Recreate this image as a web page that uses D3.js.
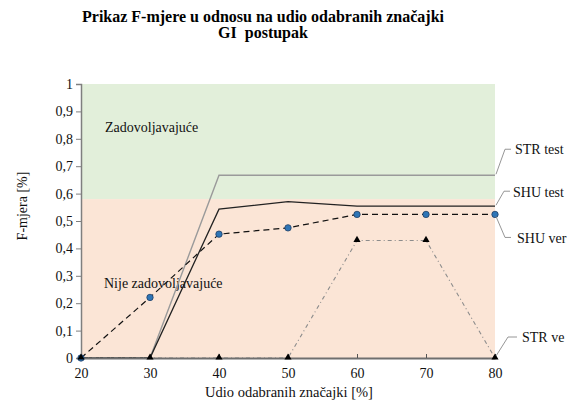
<!DOCTYPE html>
<html>
<head>
<meta charset="utf-8">
<script src="https://cdn.jsdelivr.net/npm/d3@7/dist/d3.min.js"></script>
<style>
  html, body { margin: 0; padding: 0; background: #ffffff; }
  svg { display: block; }
  svg text { font-family: "Liberation Serif", "Times New Roman", "DejaVu Serif", serif !important; }
</style>
</head>
<body>
<svg id="chart" width="570" height="410"></svg>
<script>
// Share of selected features (%)
const shares = [20, 30, 40, 50, 60, 70, 80];

// F-measure per series
const strTest = [0, 0, 0.667, 0.667, 0.667, 0.667, 0.667];
const shuTest = [0, 0, 0.543, 0.571, 0.554, 0.554, 0.554];
const shuVer  = [0, 0.221, 0.452, 0.475, 0.524, 0.524, 0.524];
const strVe   = [0, 0, 0, 0, 0.429, 0.429, 0];

const yTicks = [0, 0.1, 0.2, 0.3, 0.4, 0.5, 0.6, 0.7, 0.8, 0.9, 1];
const xTicks = [20, 30, 40, 50, 60, 70, 80];

// Threshold between satisfactory and unsatisfactory zones
const threshold = 0.58;

const titleLines = ["Prikaz F-mjere u odnosu na udio odabranih značajki", "GI  postupak"];

const svg = d3.select("#chart");
const m = { left: 81, right: 495, top: 84, bottom: 358 };

const x = d3.scaleLinear().domain([20, 80]).range([m.left, m.right]);
const y = d3.scaleLinear().domain([0, 1]).range([m.bottom, m.top]);

// Zones
svg.append("rect")
  .attr("x", x(20)).attr("y", y(1))
  .attr("width", x(80) - x(20)).attr("height", y(threshold) - y(1))
  .attr("fill", "#e2efda");
svg.append("rect")
  .attr("x", x(20)).attr("y", y(threshold))
  .attr("width", x(80) - x(20)).attr("height", y(0) - y(threshold))
  .attr("fill", "#fbe5d6");

// Title
svg.append("g").selectAll("text").data(titleLines).join("text")
  .attr("x", 263).attr("y", (d, i) => 22 + i * 16)
  .attr("text-anchor", "middle")
  .attr("font-weight", "bold")
  .attr("font-size", 16)
  .attr("fill", "#000")
  .style("white-space", "pre")
  .text(d => d);

// Zone labels
svg.append("text").attr("x", 105).attr("y", 132)
  .attr("font-size", 14).attr("fill", "#111").text("Zadovoljavajuće");
svg.append("text").attr("x", 104).attr("y", 288)
  .attr("font-size", 14).attr("fill", "#111").text("Nije zadovoljavajuće");

const line = d3.line().x((d, i) => x(shares[i])).y(d => y(d));

const series = [
  { name: "STR test", values: strTest, stroke: "#9a9a9a", width: 1.4, dash: null },
  { name: "SHU test", values: shuTest, stroke: "#222222", width: 1.3, dash: null },
  { name: "SHU ver",  values: shuVer,  stroke: "#111111", width: 1.2, dash: "6,4" },
  { name: "STR ve",   values: strVe,   stroke: "#8c8c8c", width: 1.1, dash: "4,3,1,3" }
];

const lines = svg.append("g");
series.forEach(s => {
  lines.append("path")
    .datum(s.values)
    .attr("d", line)
    .attr("fill", "none")
    .attr("stroke", s.stroke)
    .attr("stroke-width", s.width)
    .attr("stroke-dasharray", s.dash);
});

// Axes
const yAxis = d3.axisLeft(y).tickValues(yTicks).tickSize(5).tickPadding(3)
  .tickFormat(d => String(d).replace(".", ","));
const gy = svg.append("g").attr("transform", `translate(${m.left},0)`).call(yAxis);
gy.attr("font-family", null);
gy.select(".domain").attr("stroke", "#7f7f7f").attr("stroke-width", 1.5);
gy.selectAll(".tick line").attr("stroke", "#7f7f7f");
gy.selectAll(".tick text").attr("font-size", 14).attr("fill", "#111");

const xAxis = d3.axisBottom(x).tickValues(xTicks).tickSize(-4).tickPadding(10).tickSizeOuter(0);
const gx = svg.append("g").attr("transform", `translate(0,${m.bottom})`).call(xAxis);
gx.attr("font-family", null);
gx.select(".domain").attr("stroke", "#6f6f6f").attr("stroke-width", 2);
gx.selectAll(".tick line").attr("stroke", "#555");
gx.selectAll(".tick text").attr("font-size", 14).attr("fill", "#111");

// Axis titles
svg.append("text").attr("x", 289).attr("y", 397)
  .attr("text-anchor", "middle").attr("font-size", 14.5).attr("fill", "#111")
  .text("Udio odabranih značajki [%]");
svg.append("text")
  .attr("transform", "translate(27,206) rotate(-90)")
  .attr("text-anchor", "middle").attr("font-size", 14).attr("fill", "#111")
  .text("F-mjera [%]");

// Markers
svg.append("g").selectAll("circle").data(shuVer).join("circle")
  .attr("cx", (d, i) => x(shares[i])).attr("cy", d => y(d))
  .attr("r", 3.2)
  .attr("fill", "#2e75b6").attr("stroke", "#1f3f66").attr("stroke-width", 0.8);

const tri = d3.symbol().type(d3.symbolTriangle).size(22);
svg.append("g").selectAll("path").data(strVe).join("path")
  .attr("transform", (d, i) => `translate(${x(shares[i])},${y(d) - 0.5})`)
  .attr("d", tri)
  .attr("fill", "#000");

// Series labels with leader lines
const last = shares.length - 1;
const labels = [
  { text: "STR test", v: strTest[last], pts: [[1, -1], [10, -26], [16, -26]], tx: 20, ty: -21 },
  { text: "SHU test", v: shuTest[last], pts: [[1, -1], [9, -15], [15, -15]], tx: 18, ty: -9 },
  { text: "SHU ver",  v: shuVer[last],  pts: [[1, 2], [10, 23], [16, 23]], tx: 22, ty: 29 },
  { text: "STR ve",   v: strVe[last],   pts: [[1, -2], [13, -21], [22, -21]], tx: 27, ty: -16 }
];
const lg = svg.append("g");
labels.forEach(l => {
  const px = x(shares[last]), py = y(l.v);
  lg.append("path")
    .attr("d", d3.line()(l.pts.map(p => [px + p[0], py + p[1]])))
    .attr("fill", "none").attr("stroke", "#8a8a8a").attr("stroke-width", 0.9);
  lg.append("text")
    .attr("x", px + l.tx).attr("y", py + l.ty)
    .attr("font-size", 14).attr("fill", "#111")
    .text(l.text);
});
</script>
</body>
</html>
